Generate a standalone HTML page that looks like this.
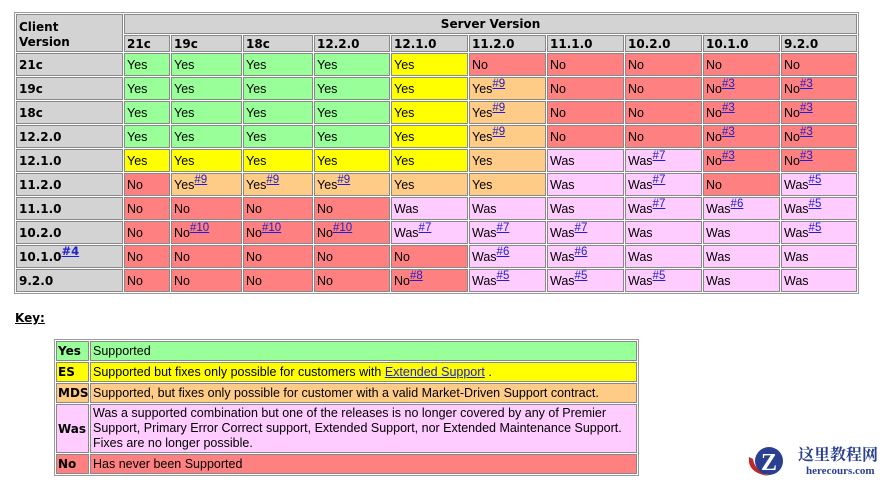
<!DOCTYPE html>
<html><head><meta charset="utf-8"><style>
body{margin:0;background:#fff;width:889px;height:483px;overflow:hidden;position:relative;font-family:"Liberation Sans","DejaVu Sans",sans-serif;font-size:12.5px;color:#000}
table{border-collapse:separate;border-spacing:1px;border:1px solid #999;table-layout:fixed;position:absolute}
td,th{border:1px solid #888;padding:0 2px;text-align:left;vertical-align:middle;white-space:nowrap;overflow:hidden;line-height:14px}
th{background:#d3d3d3;font-weight:bold;font-family:"DejaVu Sans",sans-serif;font-size:12px}
#m{left:14px;top:12px;width:845px}
#m td,#m th{height:21px}
#m tr.h1 th{height:18px}
#m tr.h2 th{height:15px}
.Y{background:#99ff99}.E{background:#ffff00}.M{background:#ffcc88}.W{background:#ffccff}.N{background:#ff8080}
sup{font-size:11.5px;line-height:0;vertical-align:baseline;position:relative;top:-6px}
a{color:#2020cc;text-decoration:underline;font-weight:bold}
td a{font-weight:normal}
#key{left:54px;top:339px;width:585px}
#key td{height:18px;padding:0 2px}
#key th{padding:0 1px}
</style></head><body>
<table id="m">
<colgroup><col style="width:107px"><col style="width:46px"><col style="width:71px"><col style="width:70px"><col style="width:76px"><col style="width:77px"><col style="width:77px"><col style="width:77px"><col style="width:77px"><col style="width:77px"><col style="width:76px"></colgroup>
<tr class="h1"><th rowspan="2" style="vertical-align:top;line-height:15px;padding-top:5px">Client<br>Version</th><th colspan="10" style="text-align:center">Server Version</th></tr>
<tr class="h2"><th>21c</th><th>19c</th><th>18c</th><th>12.2.0</th><th>12.1.0</th><th>11.2.0</th><th>11.1.0</th><th>10.2.0</th><th>10.1.0</th><th>9.2.0</th></tr>
<tr><th>21c</th><td class="Y">Yes</td><td class="Y">Yes</td><td class="Y">Yes</td><td class="Y">Yes</td><td class="E">Yes</td><td class="N">No</td><td class="N">No</td><td class="N">No</td><td class="N">No</td><td class="N">No</td></tr>
<tr><th>19c</th><td class="Y">Yes</td><td class="Y">Yes</td><td class="Y">Yes</td><td class="Y">Yes</td><td class="E">Yes</td><td class="M">Yes<sup><a>#9</a></sup></td><td class="N">No</td><td class="N">No</td><td class="N">No<sup><a>#3</a></sup></td><td class="N">No<sup><a>#3</a></sup></td></tr>
<tr><th>18c</th><td class="Y">Yes</td><td class="Y">Yes</td><td class="Y">Yes</td><td class="Y">Yes</td><td class="E">Yes</td><td class="M">Yes<sup><a>#9</a></sup></td><td class="N">No</td><td class="N">No</td><td class="N">No<sup><a>#3</a></sup></td><td class="N">No<sup><a>#3</a></sup></td></tr>
<tr><th>12.2.0</th><td class="Y">Yes</td><td class="Y">Yes</td><td class="Y">Yes</td><td class="Y">Yes</td><td class="E">Yes</td><td class="M">Yes<sup><a>#9</a></sup></td><td class="N">No</td><td class="N">No</td><td class="N">No<sup><a>#3</a></sup></td><td class="N">No<sup><a>#3</a></sup></td></tr>
<tr><th>12.1.0</th><td class="E">Yes</td><td class="E">Yes</td><td class="E">Yes</td><td class="E">Yes</td><td class="E">Yes</td><td class="M">Yes</td><td class="W">Was</td><td class="W">Was<sup><a>#7</a></sup></td><td class="N">No<sup><a>#3</a></sup></td><td class="N">No<sup><a>#3</a></sup></td></tr>
<tr><th>11.2.0</th><td class="N">No</td><td class="M">Yes<sup><a>#9</a></sup></td><td class="M">Yes<sup><a>#9</a></sup></td><td class="M">Yes<sup><a>#9</a></sup></td><td class="M">Yes</td><td class="M">Yes</td><td class="W">Was</td><td class="W">Was<sup><a>#7</a></sup></td><td class="N">No</td><td class="W">Was<sup><a>#5</a></sup></td></tr>
<tr><th>11.1.0</th><td class="N">No</td><td class="N">No</td><td class="N">No</td><td class="N">No</td><td class="W">Was</td><td class="W">Was</td><td class="W">Was</td><td class="W">Was<sup><a>#7</a></sup></td><td class="W">Was<sup><a>#6</a></sup></td><td class="W">Was<sup><a>#5</a></sup></td></tr>
<tr><th>10.2.0</th><td class="N">No</td><td class="N">No<sup><a>#10</a></sup></td><td class="N">No<sup><a>#10</a></sup></td><td class="N">No<sup><a>#10</a></sup></td><td class="W">Was<sup><a>#7</a></sup></td><td class="W">Was<sup><a>#7</a></sup></td><td class="W">Was<sup><a>#7</a></sup></td><td class="W">Was</td><td class="W">Was</td><td class="W">Was<sup><a>#5</a></sup></td></tr>
<tr><th>10.1.0<sup><a>#4</a></sup></th><td class="N">No</td><td class="N">No</td><td class="N">No</td><td class="N">No</td><td class="N">No</td><td class="W">Was<sup><a>#6</a></sup></td><td class="W">Was<sup><a>#6</a></sup></td><td class="W">Was</td><td class="W">Was</td><td class="W">Was</td></tr>
<tr><th>9.2.0</th><td class="N">No</td><td class="N">No</td><td class="N">No</td><td class="N">No</td><td class="N">No<sup><a>#8</a></sup></td><td class="W">Was<sup><a>#5</a></sup></td><td class="W">Was<sup><a>#5</a></sup></td><td class="W">Was<sup><a>#5</a></sup></td><td class="W">Was</td><td class="W">Was</td></tr>
</table>
<div style="position:absolute;left:15px;top:311px;font-weight:bold;text-decoration:underline;font-family:'DejaVu Sans',sans-serif;font-size:12px">Key:</div>
<table id="key">
<colgroup><col style="width:33px"><col></colgroup>
<tr><th class="Y">Yes</th><td class="Y">Supported</td></tr>
<tr><th class="E">ES</th><td class="E">Supported but fixes only possible for customers with <a style="font-weight:normal">Extended Support</a> .</td></tr>
<tr><th class="M">MDS</th><td class="M">Supported, but fixes only possible for customer with a valid Market-Driven Support contract.</td></tr>
<tr><th class="W">Was</th><td class="W" style="white-space:normal;height:47px;line-height:15px">Was a supported combination but one of the releases is no longer covered by any of Premier Support, Primary Error Correct support, Extended Support, nor Extended Maintenance Support. Fixes are no longer possible.</td></tr>
<tr><th class="N">No</th><td class="N">Has never been Supported</td></tr>
</table>
<div style="position:absolute;left:745px;top:443px;width:40px;height:30px">
<svg width="46" height="36" viewBox="0 0 46 36"><path d="M4 14 Q2 30 24 33 Q10 28 8 16Z" fill="#c0282a"/><circle cx="24" cy="18" r="14" fill="#2a3f8f"/><text x="16" y="27" font-family="Liberation Serif,serif" font-weight="bold" font-size="24" fill="#fff">Z</text></svg></div>
<div style="position:absolute;left:798px;top:442px;font-family:'Noto Serif CJK SC','Noto Sans CJK SC',serif;font-weight:bold;font-size:16px;color:#2a3f8f">这里教程网</div>
<div style="position:absolute;left:806px;top:465px;font-family:'Liberation Serif',serif;font-weight:bold;font-size:11px;color:#2a3f8f">herecours.com</div>
</body></html>
